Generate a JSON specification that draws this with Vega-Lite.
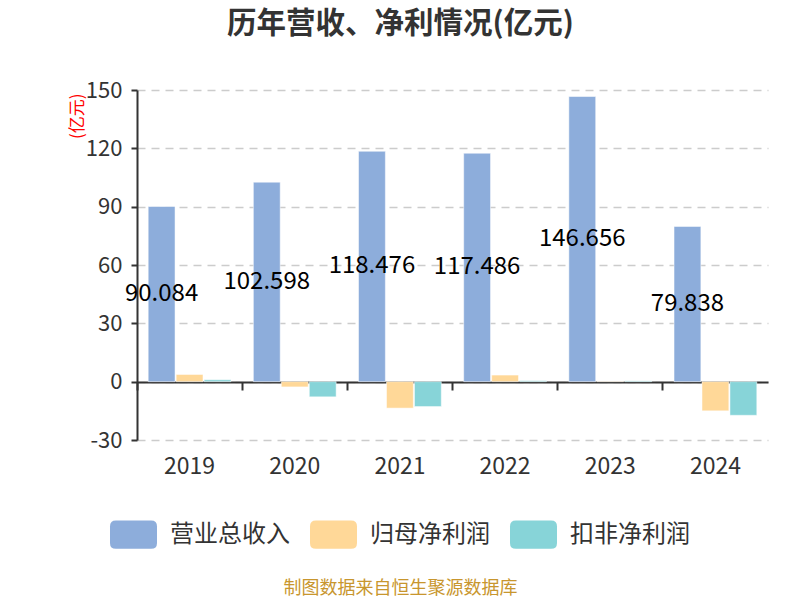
{
  "$schema": "https://vega.github.io/schema/vega-lite/v6.json",
  "width": 631,
  "height": 350,
  "autosize": "none",
  "padding": {"left": 137, "top": 90, "right": 32, "bottom": 160},
  "background": "white",
  "title": {
    "text": "历年营收、净利情况(亿元)",
    "fontSize": 29.5,
    "fontWeight": "bold",
    "color": "#333333",
    "anchor": "middle",
    "dx": -52,
    "offset": 40
  },
  "data": {
    "values": [
      {"year": "2019", "series": "营业总收入", "value": 90.084},
      {"year": "2019", "series": "归母净利润", "value": 3.7},
      {"year": "2019", "series": "扣非净利润", "value": 1.0},
      {"year": "2020", "series": "营业总收入", "value": 102.598},
      {"year": "2020", "series": "归母净利润", "value": -2.7},
      {"year": "2020", "series": "扣非净利润", "value": -7.8},
      {"year": "2021", "series": "营业总收入", "value": 118.476},
      {"year": "2021", "series": "归母净利润", "value": -13.6},
      {"year": "2021", "series": "扣非净利润", "value": -12.8},
      {"year": "2022", "series": "营业总收入", "value": 117.486},
      {"year": "2022", "series": "归母净利润", "value": 3.4},
      {"year": "2022", "series": "扣非净利润", "value": 0.5},
      {"year": "2023", "series": "营业总收入", "value": 146.656},
      {"year": "2023", "series": "归母净利润", "value": 0.2},
      {"year": "2023", "series": "扣非净利润", "value": 0.4},
      {"year": "2024", "series": "营业总收入", "value": 79.838},
      {"year": "2024", "series": "归母净利润", "value": -15.0},
      {"year": "2024", "series": "扣非净利润", "value": -17.3}
    ]
  },
  "encoding": {
    "x": {
      "field": "year",
      "type": "nominal",
      "scale": {"paddingInner": 0, "paddingOuter": 0},
      "axis": {
        "title": "制图数据来自恒生聚源数据库",
        "titleColor": "#C8962E",
        "titleFontSize": 18,
        "titleFontWeight": "normal",
        "titleX": 263,
        "titleY": 206,
        "titleAlign": "center",
        "titleBaseline": "middle",
        "labelAngle": 0,
        "labelFontSize": 23,
        "labelColor": "#333333",
        "bandPosition": 0,
        "labelPadding": 65,
        "offset": -58,
        "domainColor": "#333333",
        "domainWidth": 2,
        "tickColor": "#333333",
        "tickWidth": 2,
        "tickSize": 8,
        "grid": false
      }
    },
    "xOffset": {
      "field": "series",
      "type": "nominal",
      "scale": {
        "domain": ["营业总收入", "归母净利润", "扣非净利润"],
        "paddingInner": 0.04,
        "paddingOuter": 0.4
      }
    }
  },
  "layer": [
    {
      "mark": {"type": "bar", "stroke": "#ffffff", "strokeWidth": 1, "strokeOpacity": 0.5},
      "encoding": {
        "y": {
          "field": "value",
          "type": "quantitative",
          "scale": {"domain": [-30, 150], "nice": false},
          "axis": {
            "title": "(亿元)",
            "titleColor": "#FF0000",
            "titleFontSize": 17,
            "titleFontWeight": "normal",
            "titleAngle": -90,
            "titleAlign": "right",
            "titleBaseline": "middle",
            "titleX": -60,
            "titleY": 3,
            "values": [-30, 0, 30, 60, 90, 120, 150],
            "labelExpr": "replace(datum.label, '−', '-')",
            "labelFontSize": 22,
            "labelColor": "#333333",
            "labelPadding": 9,
            "domainColor": "#333333",
            "domainWidth": 2,
            "tickColor": "#333333",
            "tickWidth": 2,
            "tickSize": 6,
            "gridColor": "#CCCCCC",
            "gridDash": [8, 6],
            "gridWidth": 1.5
          }
        },
        "color": {
          "field": "series",
          "type": "nominal",
          "scale": {
            "domain": ["营业总收入", "归母净利润", "扣非净利润"],
            "range": ["#8DADDB", "#FFD898", "#87D4D8"]
          },
          "legend": {
            "title": null,
            "orient": "none",
            "direction": "horizontal",
            "legendX": -27,
            "legendY": 421,
            "symbolType": "M-0.75,-0.6H0.75Q1,-0.6 1,-0.35V0.35Q1,0.6 0.75,0.6H-0.75Q-1,0.6 -1,0.35V-0.35Q-1,-0.6 -0.75,-0.6Z",
            "symbolSize": 2209,
            "symbolStrokeWidth": 0,
            "symbolOpacity": 1,
            "labelFontSize": 24,
            "labelColor": "#333333",
            "labelOffset": 13,
            "columnPadding": 20
          }
        }
      }
    },
    {
      "transform": [{"filter": "datum.series === '营业总收入'"}],
      "mark": {"type": "text", "fontSize": 24, "color": "#000000", "align": "center", "baseline": "middle"},
      "encoding": {
        "y": {
          "field": "value",
          "type": "quantitative",
          "scale": {"domain": [-60, 300], "nice": false, "zero": false},
          "axis": null
        },
        "text": {"field": "value", "type": "quantitative", "format": ".3f"}
      }
    }
  ],
  "resolve": {"scale": {"y": "independent"}},
  "config": {
    "font": "Noto Sans CJK SC",
    "view": {"stroke": null}
  }
}
